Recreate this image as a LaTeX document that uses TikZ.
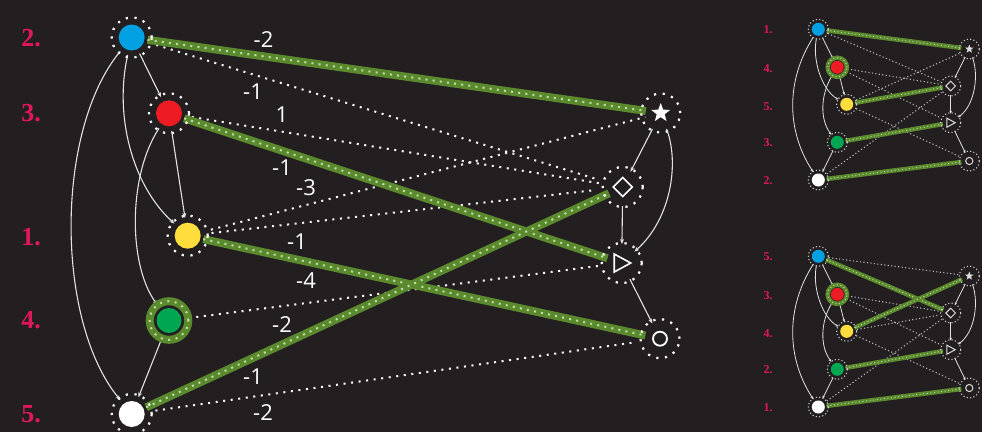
\documentclass[tikz,border=0pt]{standalone}
\usepackage{fontspec}
\usetikzlibrary{shapes.geometric,arrows.meta,calc}
\newfontfamily\wfont{Open Sans}
\newfontfamily\lfont{Liberation Serif}
\definecolor{bg}{HTML}{231F20}
\definecolor{cblue}{HTML}{00A0E3}
\definecolor{cred}{HTML}{ED1C24}
\definecolor{cyel}{HTML}{FFDD3C}
\definecolor{cgrn}{HTML}{00A651}
\definecolor{crim}{HTML}{E0185A}
\definecolor{olive}{HTML}{5A8A2D}
\definecolor{odot}{HTML}{C0DCA8}
\definecolor{lineg}{HTML}{E2E2E2}
\definecolor{ringg}{HTML}{D0D0D0}
\definecolor{dotg}{HTML}{BDBDBD}
\definecolor{symg}{HTML}{DDDDDD}
\tikzset{
  bigdot/.style={circle, minimum size=26pt, inner sep=0pt, outer sep=0pt},
  rnode/.style={circle, minimum size=30pt, inner sep=0pt, outer sep=0pt},
  sdot/.style={circle, minimum size=13pt, inner sep=0pt, outer sep=0pt},
  srnode/.style={circle, minimum size=16pt, inner sep=0pt, outer sep=0pt},
  dring/.style={draw=white, line width=2.2pt, dash pattern=on 2.2pt off 6.6pt},
  sring/.style={draw=ringg, line width=1.1pt, dash pattern=on 1.1pt off 2.3pt},
  gring/.style={draw=olive, line width=8pt, postaction={draw=odot, line width=2pt, dash pattern=on 2pt off 5.5pt}},
  sgring/.style={draw=olive, line width=4.5pt, postaction={draw=odot, line width=1pt, dash pattern=on 1pt off 2.6pt}},
  bedge/.style={draw=olive, line width=8pt, shorten <=3pt, postaction={draw=odot, line width=2pt, dash pattern=on 2pt off 5.2pt}},
  sbedge/.style={draw=olive, line width=4.5pt, shorten <=2pt, postaction={draw=odot, line width=1pt, dash pattern=on 1pt off 2.6pt}},
  dedge/.style={draw=white, line width=2pt, dash pattern=on 2pt off 5.6pt, shorten <=11pt, shorten >=11pt},
  sdedge/.style={draw=dotg, line width=1.1pt, dash pattern=on 1.1pt off 2.4pt, shorten <=4pt, shorten >=3pt},
  tarr/.style={draw=lineg, line width=1.1pt, -{Stealth[length=5pt,width=4pt]}, shorten <=5pt, shorten >=5pt},
  starr/.style={draw=lineg, line width=0.8pt, -{Stealth[length=3pt,width=2.6pt]}, shorten <=3pt, shorten >=3pt},
  wl/.style={text=white, font=\wfont\fontsize{22}{22}\selectfont, inner sep=0pt},
  mlab/.style={text=crim, font=\lfont\bfseries\fontsize{26}{26}\selectfont, inner sep=0pt},
  slab/.style={text=crim, font=\lfont\bfseries\fontsize{12}{12}\selectfont, inner sep=0pt},
  sym/.style={draw=white, line width=1.6pt},
  ssym/.style={draw=symg, line width=1pt},
}
% #1 prefix, #2 y offset, #3-#7 labels, #8 extra dotted edges, #9 extra bold edges
\newcommand\minidiag[9]{%
  \node[slab] (#1n1) at (768,{30+#2}) {#3};
  \node[slab] (#1n2) at (768,{68.5+#2}) {#4};
  \node[slab] (#1n3) at (768,{106.5+#2}) {#5};
  \node[slab] (#1n4) at (768,{143+#2}) {#6};
  \node[slab] (#1n5) at (768,{181+#2}) {#7};
  \node[sdot, fill=cblue] (#1b) at (818.3,{29.3+#2}) {};
  \node[sdot, fill=cred] (#1r) at (837.3,{67.3+#2}) {};
  \node[sdot, fill=cyel] (#1y) at (846.7,{104.3+#2}) {};
  \node[sdot, fill=cgrn] (#1g) at (837.3,{142.3+#2}) {};
  \node[sdot, fill=white] (#1w) at (818.3,{180+#2}) {};
  \node[srnode] (#1s) at (969.3,{49+#2}) {};
  \node[srnode] (#1d) at (950.7,{86+#2}) {};
  \node[srnode] (#1t) at (950.7,{122.7+#2}) {};
  \node[srnode] (#1c) at (969.3,{161+#2}) {};
  % dotted edges
  \draw[sdedge] (#1r) -- (#1d);
  \draw[sdedge] (#1r) -- (#1t);
  \draw[sdedge] (#1y) -- (#1c);
  \draw[sdedge] (#1w) -- (#1d);
  #8
  % bold edges
  \draw[sbedge] (#1g) -- (#1t);
  \draw[sbedge] (#1w) -- (#1c);
  #9
  % thin arrows
  \draw[starr] (#1b) .. controls (786,{80+#2}) and (786,{130+#2}) .. (#1w);
  \draw[starr] (#1b) .. controls (812,{60+#2}) and (822,{90+#2}) .. (#1y);
  \draw[starr] (#1b) -- (#1r);
  \draw[starr] (#1r) -- (#1y);
  \draw[starr] (#1r) .. controls (820,{95+#2}) and (820,{120+#2}) .. (#1g);
  \draw[starr] (#1g) -- (#1w);
  \draw[starr, shorten <=1pt, shorten >=1pt] (#1s) -- (#1d);
  \draw[starr, shorten <=1pt, shorten >=1pt] (#1s) .. controls (979,{75+#2}) and (975,{105+#2}) .. (#1t);
  \draw[starr, shorten <=1pt, shorten >=1pt] (#1d) -- (#1t);
  \draw[starr, shorten <=1pt, shorten >=1pt] (#1t) -- (#1c);
  % rings
  \draw[sring] (#1b) circle[radius=10pt];
  \draw[sgring] (#1r) circle[radius=9.6pt];
  \draw[sring] (#1y) circle[radius=10pt];
  \draw[sring] (#1g) circle[radius=10pt];
  \draw[sring] (#1w) circle[radius=10pt];
  \draw[sring] (#1s) circle[radius=10pt];
  \draw[sring] (#1d) circle[radius=10pt];
  \draw[sring] (#1t) circle[radius=10pt];
  \draw[sring] (#1c) circle[radius=10pt];
  % symbols
  \node[star, star points=5, star point ratio=2.4, fill=symg, minimum size=9pt, inner sep=0pt] (#1ss) at (#1s) {};
  \draw[ssym] ($(#1d)+(0,-4.8)$) -- ($(#1d)+(4.8,0)$) -- ($(#1d)+(0,4.8)$) -- ($(#1d)+(-4.8,0)$) -- cycle;
  \draw[ssym] ($(#1t)+(-3.8,-4.5)$) -- ($(#1t)+(4.5,0)$) -- ($(#1t)+(-3.8,4.5)$) -- cycle;
  \draw[ssym] (#1c) circle[radius=3.6pt];
}
\begin{document}
\begin{tikzpicture}[x=1pt, y=-1pt]
\useasboundingbox (0,0) rectangle (982,432);
\fill[bg] (0,0) rectangle (982,432);

% ---- main diagram: nodes
\node[bigdot, fill=cblue] (B) at (131.7,37.5) {};
\node[bigdot, fill=cred] (R) at (169,113.3) {};
\node[bigdot, fill=cyel] (Y) at (187.7,235.7) {};
\node[bigdot, fill=cgrn, minimum size=25pt] (G) at (169,320.5) {};
\node[bigdot, fill=white] (W) at (131.7,414) {};
\node[rnode] (S) at (660.7,113) {};
\node[rnode] (D) at (622.7,187) {};
\node[rnode] (T) at (621.7,263) {};
\node[rnode] (C) at (660,338.7) {};

% rank labels
\node[mlab] (m1) at (31,38) {2.};
\node[mlab] (m2) at (31,113) {3.};
\node[mlab] (m3) at (31,237) {1.};
\node[mlab] (m4) at (31,320) {4.};
\node[mlab] (m5) at (31,414) {5.};

% dotted edges
\draw[dedge, shorten <=5pt] (B) -- (D);
\draw[dedge, shorten <=10pt, shorten >=9pt] (R) -- (D);
\draw[dedge, shorten >=1pt] (Y) -- (S);
\draw[dedge, shorten >=13pt] (Y) -- (D);
\draw[dedge, shorten <=15pt, shorten >=4pt] (G) -- (T);
\draw[dedge, shorten >=12pt] (W) -- (C);
% bold edges
\draw[bedge] (B) -- (S);
\draw[bedge] (R) -- (T);
\draw[bedge] (Y) -- (C);
\draw[bedge] (W) -- (D);

% thin arrows
\draw[tarr] (B) -- (R);
\draw[tarr] (B) .. controls (114,115) and (132,185) .. (Y);
\draw[tarr] (B) .. controls (55,130) and (55,320) .. (W);
\draw[tarr] (R) -- (Y);
\draw[tarr, shorten >=7pt] (R) .. controls (128,175) and (128,265) .. (G);
\draw[tarr, shorten <=8pt] (G) -- (W);
\draw[tarr, shorten <=3pt, shorten >=2pt] (S) -- (D);
\draw[tarr, shorten <=2pt, shorten >=2pt] (S) .. controls (680,165) and (670,220) .. (T);
\draw[tarr, shorten <=4pt, shorten >=4pt] (D) -- (T);
\draw[tarr, shorten <=3pt, shorten >=2pt] (T) -- (C);

% rings
\draw[dring] (B) circle[radius=20pt];
\draw[dring] (R) circle[radius=20pt];
\draw[dring] (Y) circle[radius=20pt];
\draw[gring] (G) circle[radius=19.3pt];
\draw[dring] (W) circle[radius=20pt];
\draw[dring] (S) circle[radius=19.5pt];
\draw[dring] (D) circle[radius=20pt];
\draw[dring] (T) circle[radius=20pt];
\draw[dring] (C) circle[radius=19.5pt];

% symbols
\node[star, star points=5, star point ratio=2.4, fill=white, minimum size=20pt, inner sep=0pt] (Ss) at (S) {};
\draw[sym] ($(D)+(0,-9.5)$) -- ($(D)+(9.5,0)$) -- ($(D)+(0,9.5)$) -- ($(D)+(-9.5,0)$) -- cycle;
\draw[sym] ($(T)+(-7.5,-9)$) -- ($(T)+(9,0)$) -- ($(T)+(-7.5,9)$) -- cycle;
\draw[sym, line width=1.8pt] (C) circle[radius=7pt];

% weight labels
\node[wl] (w1) at (263.5,40) {-2};
\node[wl] (w2) at (253,92) {-1};
\node[wl] (w3) at (282,115) {1};
\node[wl] (w4) at (282,168) {-1};
\node[wl] (w5) at (306,188) {-3};
\node[wl] (w6) at (297,242) {-1};
\node[wl] (w7) at (306,281) {-4};
\node[wl] (w8) at (282,325) {-2};
\node[wl] (w9) at (253,377) {-1};
\node[wl] (w10) at (263,413) {-2};

% ---- small diagrams
\minidiag{u}{0}{1.}{4.}{5.}{3.}{2.}
  {\draw[sdedge] (ub) -- (ud); \draw[sdedge] (uy) -- (us);}
  {\draw[sbedge] (ub) -- (us); \draw[sbedge] (uy) -- (ud);}
\minidiag{v}{227}{5.}{3.}{4.}{2.}{1.}
  {\draw[sdedge] (vb) -- (vs); \draw[sdedge] (vy) -- (vd);}
  {\draw[sbedge] (vb) -- (vd); \draw[sbedge] (vy) -- (vs);}
\end{tikzpicture}
\end{document}
